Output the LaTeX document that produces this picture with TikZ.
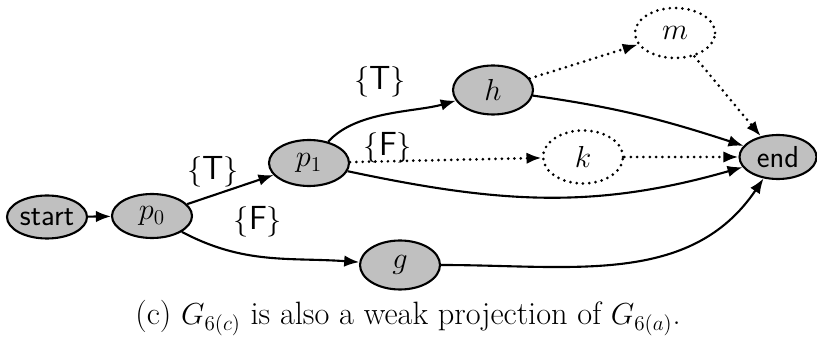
\documentclass[tikz,border=0pt]{standalone}
\usepackage{amsmath,amssymb}
\usepackage{xcolor}
\usepackage{tikz}
\usetikzlibrary{positioning,arrows.meta,shapes.geometric}
\definecolor{stfill}{RGB}{192,192,192}
\tikzset{
  st/.style={draw,ellipse,fill=stfill,line width=1.2pt,font=\LARGE\sffamily,inner sep=0pt,minimum width=16mm,minimum height=9.2mm},
  ghost/.style={st,fill=none,dash pattern=on 0pt off 3.6pt,line cap=round,line width=1.7pt},
  ar/.style={-{Latex[length=3mm,width=2.3mm]},line width=1.2pt},
  dar/.style={ar,dash pattern=on 0pt off 3.6pt,line cap=round,line width=1.7pt},
  lbl/.style={font=\fontsize{19}{22}\selectfont},
}

\begin{document}
\begin{tikzpicture}
  \useasboundingbox (0,0) rectangle (16.34,6.9);
  % states
  \node[st,inner xsep=-1.5pt,minimum height=8.6mm] (start) at (0.94,2.56) {start};
  \node[st,minimum height=8.8mm] (p0) at (3.04,2.58) {$p_0$};
  \node[st] (p1) at (6.18,3.64) {$p_1$};
  \node[st,minimum height=9.8mm] (h) at (9.86,5.10) {$h$};
  \node[st,minimum height=9.8mm] (g) at (8.00,1.60) {$g$};
  \node[ghost,minimum height=10mm] (m) at (13.50,6.24) {$m$};
  \node[ghost,minimum height=10.6mm] (k) at (11.66,3.76) {$k$};
  \node[st,minimum width=15.4mm,minimum height=8.8mm] (end) at (15.56,3.76) {end};
  % edges
  \draw[ar] (start) -- (p0);
  \draw[ar] (p0) -- (p1);
  \draw[ar] (p0) to[out=-28,in=176] (g);
  \draw[ar] (p1) to[out=48,in=196,looseness=0.8] (h);
  \draw[dar] (p1) -- (k);
  \draw[ar] (p1) to[out=-12,in=196] (end);
  \draw[dar] (h) -- (m);
  \draw[ar] (h) to[out=-8,in=162] (end);
  \draw[dar] (m) -- (end);
  \draw[dar] (k) -- (end);
  \draw[ar] (g) to[out=0,in=236] (end);
  % guards
  \node[lbl] (t0) at (4.26,3.46) {$\{$\textsf{T}$\}$};
  \node[lbl] (f0) at (5.16,2.46) {$\{$\textsf{F}$\}$};
  \node[lbl] (t1) at (7.60,5.26) {$\{$\textsf{T}$\}$};
  \node[lbl] (f1) at (7.76,3.94) {$\{$\textsf{F}$\}$};
  % caption
  \node[font=\fontsize{18.4}{22}\selectfont] (cap) at (8.16,0.54) {(c) $G_{6(c)}$ is also a weak projection of $G_{6(a)}$.};
\end{tikzpicture}
\end{document}
